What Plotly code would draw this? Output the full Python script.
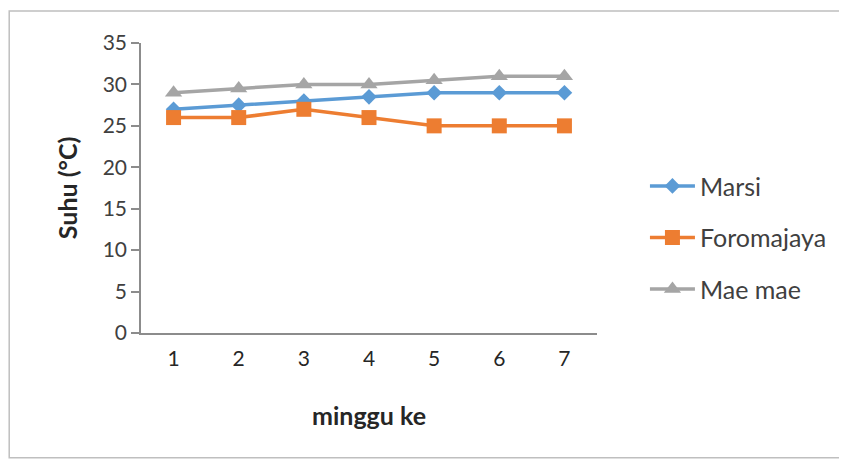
import plotly.graph_objects as go

weeks = [1, 2, 3, 4, 5, 6, 7]
marsi = [27, 27.5, 28, 28.5, 29, 29, 29]
foromajaya = [26, 26, 27, 26, 25, 25, 25]
mae_mae = [29, 29.5, 30, 30, 30.5, 31, 31]
y_ticks = [0, 5, 10, 15, 20, 25, 30, 35]

FONT = "Lato, 'Open Sans', sans-serif"

fig = go.Figure()
fig.add_trace(go.Scatter(x=weeks, y=marsi, name="Marsi", mode="lines+markers",
                         legendgroup="a",
                         line=dict(color="#5B9BD5", width=3.5),
                         marker=dict(symbol="diamond", size=12, color="#5B9BD5")))
fig.add_trace(go.Scatter(x=weeks, y=foromajaya, name="Foromajaya", mode="lines+markers",
                         legendgroup="b",
                         line=dict(color="#ED7D31", width=3.5),
                         marker=dict(symbol="square", size=15, color="#ED7D31")))
fig.add_trace(go.Scatter(x=weeks, y=mae_mae, name="Mae mae", mode="lines+markers",
                         legendgroup="c",
                         line=dict(color="#A5A5A5", width=3.5),
                         marker=dict(symbol="triangle-up", size=15, color="#A5A5A5")))

fig.update_layout(
    width=847, height=459,
    margin=dict(l=133, r=258, t=35, b=134),
    paper_bgcolor="white", plot_bgcolor="white",
    font=dict(family=FONT, size=21, color="#404040"),
    showlegend=True,
    legend=dict(xref="container", yref="container", x=0.752, y=0.662,
                xanchor="left", yanchor="top", tracegroupgap=16,
                font=dict(size=25, color="#404040"), itemwidth=45,
                bgcolor="rgba(0,0,0,0)"),
    xaxis=dict(range=[0.5, 7.5], tickvals=weeks, ticktext=[str(w) for w in weeks],
               showline=True, linecolor="#8c8c8c", linewidth=2, showgrid=False,
               zeroline=False, ticks="", ticklabelstandoff=6,
               tickfont=dict(size=21, color="#262626")),
    yaxis=dict(range=[0, 35], tickvals=y_ticks, showline=True, linecolor="#8c8c8c",
               linewidth=1.5, showgrid=False, zeroline=False, ticks="outside",
               ticklen=8, tickwidth=1.5, tickcolor="#8c8c8c", ticksuffix="  ",
               tickfont=dict(size=21, color="#404040")),
    annotations=[
        dict(text="<b>Suhu (°C)</b>", xref="paper", yref="paper", x=-0.162, y=0.5,
             xanchor="center", yanchor="middle", textangle=-90, showarrow=False,
             font=dict(size=25, color="#262626")),
        dict(text="<b>minggu ke</b>", xref="paper", yref="paper", x=0.5, y=-0.283,
             xanchor="center", yanchor="middle", showarrow=False,
             font=dict(size=25, color="#262626")),
    ],
    shapes=[
        dict(type="rect", xref="paper", yref="paper", x0=-0.289, x1=2.0,
             y0=-0.43, y1=1.11, line=dict(color="#bfbfbf", width=1.5),
             fillcolor="rgba(0,0,0,0)", layer="below"),
    ],
)

fig.write_html("out.html")
